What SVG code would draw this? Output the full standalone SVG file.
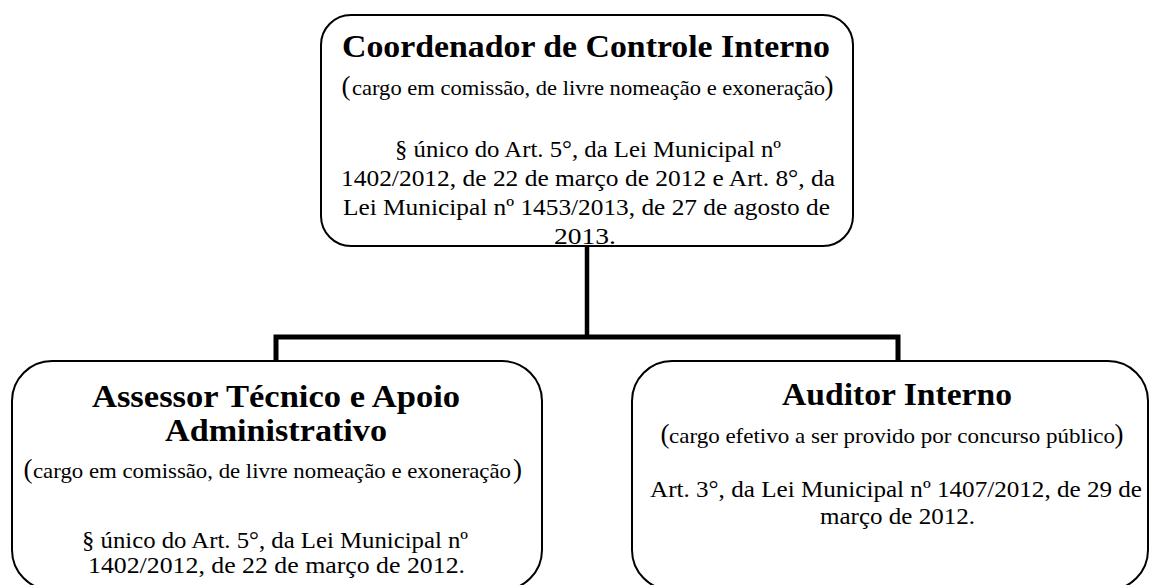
<svg xmlns="http://www.w3.org/2000/svg" width="1151" height="585" viewBox="0 0 1151 585">
<style>
.box{fill:#fff;stroke:#000;stroke-width:2}
.t{font-family:"Liberation Serif","DejaVu Serif",serif;font-weight:bold;font-size:31px;fill:#000;text-anchor:middle}
.s{font-family:"Liberation Serif","DejaVu Serif",serif;font-size:21.5px;fill:#000;text-anchor:middle}
.p{font-family:"Liberation Serif","DejaVu Serif",serif;font-size:27px;fill:#000}
.b{font-family:"Liberation Serif","DejaVu Serif",serif;font-size:23.5px;fill:#000;text-anchor:middle}
.c{fill:none;stroke:#000}
</style>
<defs>
<clipPath id="clipTop"><rect x="321" y="15" width="532" height="230" rx="30"/></clipPath>
</defs>
<g id="connectors">
<path class="c" d="M587,246 V337" stroke-width="4.5"/>
<path class="c" d="M276,361 V337 H898 V361" stroke-width="5"/>
</g>
<g id="node-coordenador">
<rect class="box" x="321" y="15" width="532" height="231" rx="30"/>
<text class="t" x="586" y="57" textLength="488" lengthAdjust="spacingAndGlyphs">Coordenador de Controle Interno</text>
<text class="p" x="341.5" y="95">(</text>
<text class="s" x="588.5" y="95" textLength="473" lengthAdjust="spacingAndGlyphs">cargo em comissão, de livre nomeação e exoneração</text>
<text class="p" x="833.5" y="95" text-anchor="end">)</text>
<g clip-path="url(#clipTop)">
<text class="b" x="588" y="157" textLength="386" lengthAdjust="spacingAndGlyphs">§ único do Art. 5°, da Lei Municipal nº</text>
<text class="b" x="588" y="186" textLength="494" lengthAdjust="spacingAndGlyphs">1402/2012, de 22 de março de 2012 e Art. 8°, da</text>
<text class="b" x="586.5" y="215" textLength="487" lengthAdjust="spacingAndGlyphs">Lei Municipal nº 1453/2013, de 27 de agosto de</text>
<text class="b" x="585" y="243.5" textLength="62" lengthAdjust="spacingAndGlyphs">2013.</text>
</g>
</g>
<g id="node-assessor">
<rect class="box" x="12" y="361" width="530" height="229" rx="40"/>
<text class="t" x="276" y="407" textLength="368" lengthAdjust="spacingAndGlyphs">Assessor Técnico e Apoio</text>
<text class="t" x="276" y="441" textLength="222" lengthAdjust="spacingAndGlyphs">Administrativo</text>
<text class="p" x="23.5" y="478">(</text>
<text class="s" x="272" y="478" textLength="478" lengthAdjust="spacingAndGlyphs">cargo em comissão, de livre nomeação e exoneração</text>
<text class="p" x="522" y="478" text-anchor="end">)</text>
<text class="b" x="275" y="548" textLength="386" lengthAdjust="spacingAndGlyphs">§ único do Art. 5°, da Lei Municipal nº</text>
<text class="b" x="276.5" y="573" textLength="377" lengthAdjust="spacingAndGlyphs">1402/2012, de 22 de março de 2012.</text>
</g>
<g id="node-auditor">
<rect class="box" x="632" y="361" width="516" height="229" rx="40"/>
<text class="t" x="897" y="405" textLength="230" lengthAdjust="spacingAndGlyphs">Auditor Interno</text>
<text class="p" x="660.5" y="443">(</text>
<text class="s" x="892" y="443" textLength="446" lengthAdjust="spacingAndGlyphs">cargo efetivo a ser provido por concurso público</text>
<text class="p" x="1123.5" y="443" text-anchor="end">)</text>
<text class="b" x="896" y="497" textLength="492" lengthAdjust="spacingAndGlyphs">Art. 3°, da Lei Municipal nº 1407/2012, de 29 de</text>
<text class="b" x="897.5" y="524" textLength="155" lengthAdjust="spacingAndGlyphs">março de 2012.</text>
</g>
</svg>
